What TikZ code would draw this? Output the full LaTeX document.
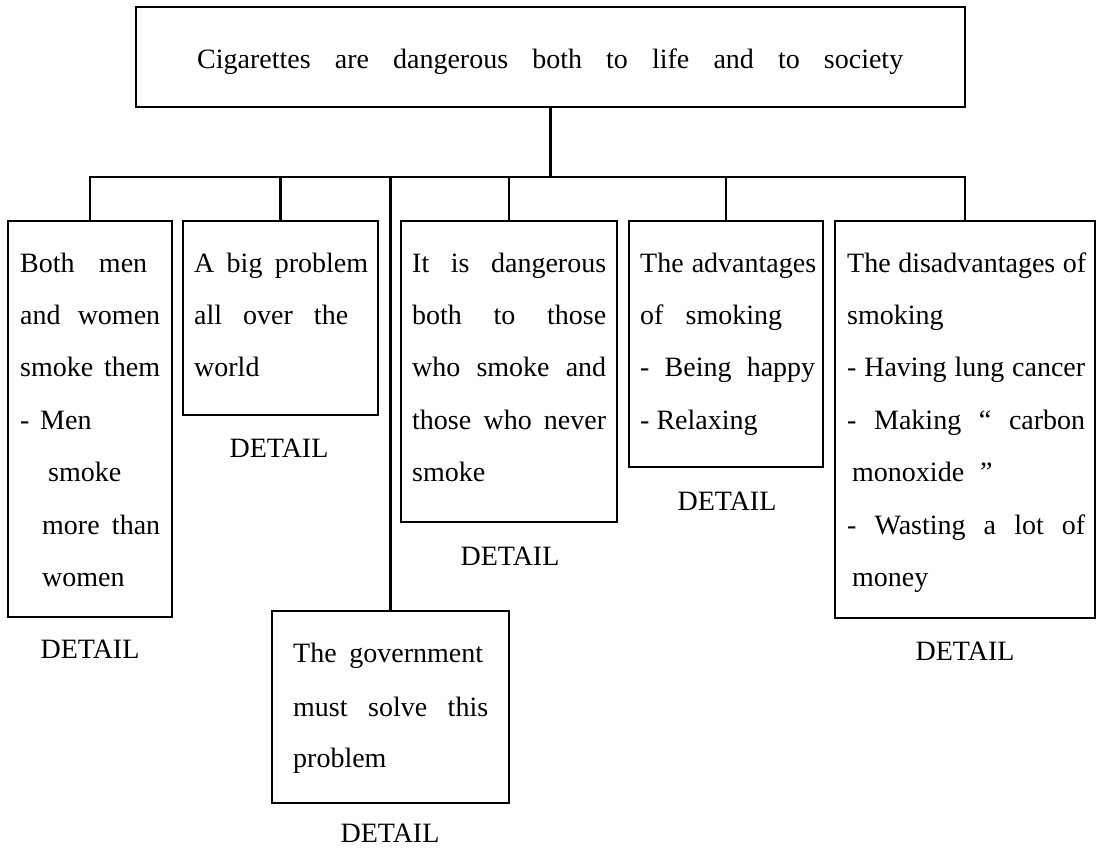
\documentclass[tikz,border=0pt]{standalone}
\usepackage{fontspec}
\setmainfont{Liberation Serif}
\newcommand{\jl}[2]{\makebox[#1pt][s]{#2}}
\begin{document}
\begin{tikzpicture}[x=1pt,y=-1pt,
  box/.style={draw, line width=2pt, anchor=north west, inner sep=0pt, outer sep=0pt},
  txt/.style={anchor=base west, inner sep=0pt, font=\fontsize{28}{30}\selectfont},
  lbl/.style={anchor=base, inner sep=0pt, font=\fontsize{28}{30}\selectfont},
  conn/.style={line width=2.2pt}]
\fill[white] (0,0) rectangle (1098,847);
\useasboundingbox (0,0) rectangle (1098,847);

% boxes
\node[box, minimum width=829pt, minimum height=100pt] (top) at (136,7) {};
\node[box, minimum width=164pt, minimum height=396pt] (b1) at (8,221) {};
\node[box, minimum width=195pt, minimum height=194pt] (b2) at (183,221) {};
\node[box, minimum width=216pt, minimum height=301pt] (b3) at (401,221) {};
\node[box, minimum width=194pt, minimum height=246pt] (b4) at (629,221) {};
\node[box, minimum width=260pt, minimum height=397pt] (b5) at (835,221) {};
\node[box, minimum width=237pt, minimum height=192pt] (gov) at (272,611) {};

% connectors
\coordinate (bar) at (0,177);
\draw[conn] (top.south) -- (top.south |- bar);
\draw[conn] (b1.north) |- (b5.north |- bar) -- (b5.north);
\draw[conn] (b2.north |- bar) -- (b2.north);
\draw[conn] (b3.north |- bar) -- (b3.north);
\draw[conn] (b4.north |- bar) -- (b4.north);
\draw[conn, line width=2.6pt] (gov.north |- bar) -- (gov.north);

% top text
\node[txt] (toptext) at (197,68) {\jl{706}{Cigarettes are dangerous both to life and to society}};

% box 1
\node[txt] (t1a) at (20,272) {\jl{127}{Both men}};
\node[txt] (t1b) at (20,324) {\jl{140}{and women}};
\node[txt] (t1c) at (20,376) {\jl{140}{smoke them}};
\node[txt] (t1d) at (20,429) {\makebox[20pt][l]{-}Men};
\node[txt] (t1e) at (48,481) {smoke};
\node[txt] (t1f) at (42,534) {\jl{118}{more than}};
\node[txt] (t1g) at (42,586) {women};
\node[lbl] (d1) at (90,658) {DETAIL};

% box 2
\node[txt] (t2a) at (194,272) {\jl{174}{A big problem}};
\node[txt] (t2b) at (194,324) {\jl{154}{all over the}};
\node[txt] (t2c) at (194,376) {world};
\node[lbl] (d2) at (279,457) {DETAIL};

% box 3
\node[txt] (t3a) at (412,272) {\jl{194}{It is dangerous}};
\node[txt] (t3b) at (412,324) {\jl{194}{both to those}};
\node[txt] (t3c) at (412,376) {\jl{194}{who smoke and}};
\node[txt] (t3d) at (412,429) {\jl{194}{those who never}};
\node[txt] (t3e) at (412,481) {smoke};
\node[lbl] (d3) at (510,565) {DETAIL};

% box 4
\node[txt] (t4a) at (640,272) {\jl{176}{The advantages}};
\node[txt] (t4b) at (640,324) {\jl{142}{of smoking}};
\node[txt] (t4c) at (640,376) {\jl{175}{- Being happy}};
\node[txt] (t4d) at (640,429) {- Relaxing};
\node[lbl] (d4) at (727,510) {DETAIL};

% box 5
\node[txt] (t5a) at (847,272) {\jl{239}{The disadvantages of}};
\node[txt] (t5b) at (847,324) {smoking};
\node[txt] (t5c) at (847,376) {\jl{238}{- Having lung cancer}};
\node[txt] (t5d) at (847,429) {\jl{238}{- Making “ carbon}};
\node[txt] (t5e) at (852,481) {monoxide\hspace{16pt}”};
\node[txt] (t5f) at (847,534) {\jl{238}{- Wasting a lot of}};
\node[txt] (t5g) at (852,586) {money};
\node[lbl] (d5) at (965,660) {DETAIL};

% government box
\node[txt] (t6a) at (293,662) {\jl{190}{The government}};
\node[txt] (t6b) at (293,716) {\jl{195}{must solve this}};
\node[txt] (t6c) at (293,767) {problem};
\node[lbl] (d6) at (390,842) {DETAIL};
\end{tikzpicture}
\end{document}
